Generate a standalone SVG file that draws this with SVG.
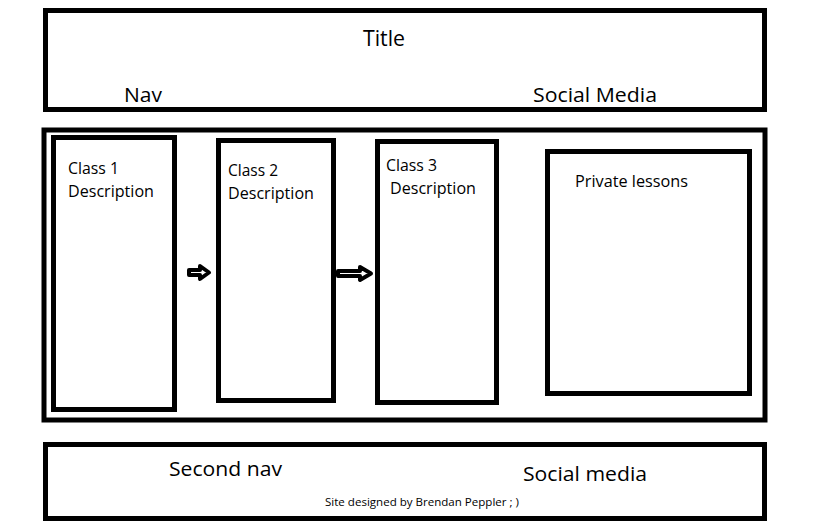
<svg xmlns="http://www.w3.org/2000/svg" width="819" height="532" viewBox="0 0 819 532">
  <style>
    .frame { fill: none; stroke: #000; stroke-width: 5; }
    .box { fill: #fff; stroke: #000; stroke-width: 5; }
    .lbl { font-family: "Open Sans", "Liberation Sans", sans-serif; fill: #000; }
    .big { font-size: 20px; }
    .mid { font-size: 15.5px; }
    .small { font-size: 11.5px; }
    .arrow { fill: #fff; stroke: #000; stroke-width: 4; stroke-linejoin: round; }
  </style>
  <rect width="819" height="532" fill="#fff"/>

  <!-- header band -->
  <g id="header">
    <rect class="frame" x="45.5" y="10.5" width="719" height="99"/>
    <text class="lbl big" x="363" y="46" textLength="42" lengthAdjust="spacingAndGlyphs" style="font-size:21px">Title</text>
    <text class="lbl big" x="124" y="102" textLength="38" lengthAdjust="spacingAndGlyphs">Nav</text>
    <text class="lbl big" x="533" y="102" textLength="124" lengthAdjust="spacingAndGlyphs">Social Media</text>
  </g>

  <!-- content band -->
  <g id="content">
    <rect class="frame" x="44" y="130" width="721" height="290"/>
  </g>

  <g id="class1">
    <rect class="box" x="53.5" y="137.5" width="121" height="272"/>
    <text class="lbl mid" x="68" y="174" textLength="51" lengthAdjust="spacingAndGlyphs">Class 1</text>
    <text class="lbl mid" x="68" y="197" textLength="86" lengthAdjust="spacingAndGlyphs">Description</text>
  </g>

  <g id="class2">
    <rect class="box" x="218.5" y="140.5" width="115" height="260"/>
    <text class="lbl mid" x="228" y="176" textLength="50" lengthAdjust="spacingAndGlyphs">Class 2</text>
    <text class="lbl mid" x="228" y="199" textLength="86" lengthAdjust="spacingAndGlyphs">Description</text>
  </g>

  <g id="class3">
    <rect class="box" x="377.5" y="141.5" width="119" height="261"/>
    <text class="lbl mid" x="386" y="171" textLength="51" lengthAdjust="spacingAndGlyphs">Class 3</text>
    <text class="lbl mid" x="390" y="194" textLength="86" lengthAdjust="spacingAndGlyphs">Description</text>
  </g>

  <g id="private-lessons">
    <rect class="box" x="547.5" y="151.5" width="202" height="242"/>
    <text class="lbl mid" x="575" y="187" textLength="113" lengthAdjust="spacingAndGlyphs">Private lessons</text>
  </g>

  <!-- block arrows between the class columns -->
  <g id="connectors">
    <path class="arrow" d="M189,270 H200 V266 L209,272.5 L200,279 V275 H189 Z"/>
    <path class="arrow" d="M338,271 H360 V267 L371,273.5 L360,280 V276 H338 Z"/>
  </g>

  <!-- footer band -->
  <g id="footer">
    <rect class="frame" x="45.5" y="444.5" width="719" height="74"/>
    <text class="lbl big" x="169" y="476" textLength="113" lengthAdjust="spacingAndGlyphs">Second nav</text>
    <text class="lbl big" x="523" y="481" textLength="124" lengthAdjust="spacingAndGlyphs">Social media</text>
    <text class="lbl small" x="325" y="506" textLength="194" lengthAdjust="spacingAndGlyphs">Site designed by Brendan Peppler ; )</text>
  </g>
</svg>
